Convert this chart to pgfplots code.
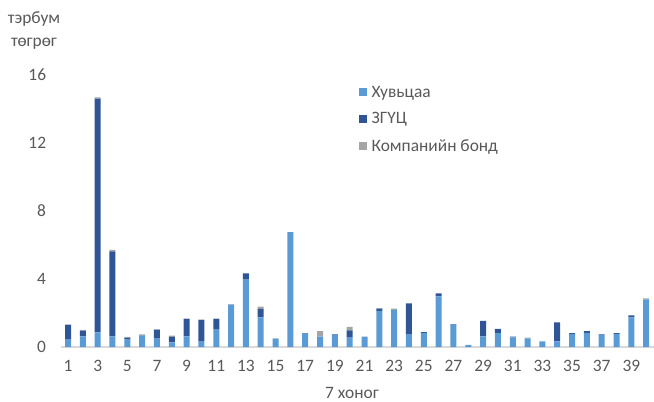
\documentclass[border=0pt]{standalone}
\usepackage{pgfplots}
\pgfplotsset{compat=1.18}
\usepackage{pgfplotstable}
\usepackage{fontspec}
\setmainfont{Carlito}
\definecolor{shares}{HTML}{5B9BD5}
\definecolor{gov}{HTML}{2F5597}
\definecolor{bond}{HTML}{A5A5A5}
\definecolor{txt}{HTML}{595959}
\pgfplotstableread{
x A B C
1 0.43 0.89 0
2 0.63 0.33 0.05
3 0.86 13.75 0.08
4 0.63 5.0 0.08
5 0.43 0.10 0.07
6 0.67 0.02 0.05
7 0.49 0.53 0.02
8 0.27 0.32 0.08
9 0.63 1.02 0.02
10 0.35 1.24 0.02
11 1.02 0.63 0.02
12 2.50 0 0.02
13 3.96 0.37 0
14 1.75 0.49 0.14
15 0.49 0 0.02
16 6.75 0 0
17 0.77 0.03 0
18 0.61 0 0.33
19 0.73 0.03 0
20 0.55 0.43 0.20
21 0.59 0 0.02
22 2.12 0.14 0.02
23 2.18 0 0.08
24 0.73 1.84 0
25 0.83 0.04 0
26 2.98 0.18 0
27 1.32 0.03 0
28 0.12 0 0
29 0.63 0.90 0
30 0.81 0.25 0
31 0.57 0.04 0
32 0.51 0 0.04
33 0.33 0 0
34 0.33 1.12 0
35 0.77 0.04 0
36 0.83 0.11 0
37 0.71 0.04 0
38 0.77 0.04 0
39 1.75 0.11 0
40 2.80 0 0.06
}\datatable
\begin{document}
\begin{tikzpicture}[x=1pt,y=1pt]
\path[use as bounding box] (0,0) rectangle (654,402);
\begin{axis}[
  at={(60.6pt,55pt)}, anchor=south west,
  scale only axis, width=593pt, height=272pt,
  ybar stacked, bar width=6pt,
  xmin=0.5, xmax=40.5, ymin=0, ymax=16,
  xtick={1,3,...,39}, ytick={0,4,...,16},
  axis y line*=left, axis x line*=bottom,
  y axis line style={draw=none},
  x axis line style={draw=black!15, line width=1.2pt},
  major tick length=0pt,
  tick label style={font=\fontsize{17.4}{20}\selectfont, text=txt},
  /pgf/number format/assume math mode=true,
  yticklabel style={xshift=-11pt},
  xticklabel style={yshift=-10pt},
  legend style={at={(axis description cs:0.503,0.968)}, anchor=north west,
    draw=none, fill=none, inner sep=0pt, row sep=10pt,
    font=\fontsize{17.4}{20}\selectfont, text=txt,
    /tikz/every even column/.append style={column sep=0pt}},
  legend cell align=left,
  clip=false,
]
\addplot[fill=shares, draw=none, legend image code/.code={\fill[shares] (0pt,-4pt) rectangle (8pt,4pt);}] table[x=x,y=A]{\datatable};
\addlegendentry{\hspace{2.5pt}Хувьцаа}
\addplot[fill=gov, draw=none, legend image code/.code={\fill[gov] (0pt,-4pt) rectangle (8pt,4pt);}] table[x=x,y=B]{\datatable};
\addlegendentry{\hspace{2.5pt}ЗГҮЦ}
\addplot[fill=bond, draw=none, legend image code/.code={\fill[bond] (0pt,-4pt) rectangle (8pt,4pt);}] table[x=x,y=C]{\datatable};
\addlegendentry{\hspace{2.5pt}Компанийн бонд}
\end{axis}
\node[text=txt, font=\fontsize{17.4}{23}\selectfont, align=center] at (34,372) {тэрбум\\төгрөг};
\node[text=txt, font=\fontsize{17.4}{20}\selectfont] at (352,9.5) {7 хоног};
\end{tikzpicture}
\end{document}
